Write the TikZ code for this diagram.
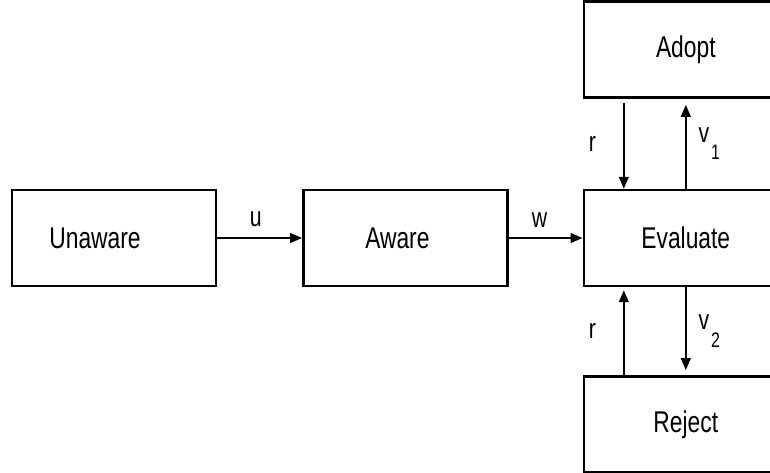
\documentclass[tikz,border=0pt]{standalone}
\usepackage{fontspec}
\setmainfont{Liberation Sans}[FakeStretch=0.76]
\usetikzlibrary{arrows.meta, positioning}
\newcommand{\lowsub}[1]{\kern1pt\raisebox{-0.62em}{\fontsize{10.5}{12}\selectfont #1}}

\begin{document}
\begin{tikzpicture}[
    node distance=42pt and 42pt,
    state/.style={draw, line width=1.2pt, minimum width=102pt, minimum height=48pt,
                  inner sep=0pt, font=\fontsize{15}{18}\selectfont},
    arr/.style={-{Triangle[length=6pt, width=4.8pt]}, line width=1.1pt},
    lbl/.style={font=\fontsize{14}{16}\selectfont, midway}
  ]
  \useasboundingbox (0,0) rectangle (385pt,-236pt);
  \clip (0,0) rectangle (385pt,-236pt);

  % Main chain
  \node[state] (unaware) at (57pt,-119pt) {Unaware\kern19pt};
  \node[state, right=42.5pt of unaware] (aware) {Aware\kern8pt};
  \node[state, right=37pt of aware] (eval) {Evaluate};

  % Outcomes
  \node[state, above=45pt of eval] (adopt) {Adopt};
  \node[state, below=44pt of eval] (reject) {Reject};

  % Arrows along the chain
  \draw[arr] (unaware) -- node[lbl, above=1.5pt, xshift=-2pt]{u} (aware);
  \draw[arr] (aware) -- node[lbl, above=1.5pt, xshift=-3pt]{w} (eval);

  % Arrows to and from the outcomes
  \draw[arr, shorten <=2pt] ([xshift=-31pt]adopt.south) -- node[lbl, left=10pt]{r} ([xshift=-31pt]eval.north);
  \draw[arr, shorten >=3pt] (eval.north) -- node[lbl, right=2.5pt]{v\lowsub{1}} (adopt.south);
  \draw[arr, shorten >=1.5pt] ([xshift=-31pt]reject.north) -- node[lbl, left=10pt]{r} ([xshift=-31pt]eval.south);
  \draw[arr, shorten >=2.5pt] (eval.south) -- node[lbl, right=2.5pt]{v\lowsub{2}} (reject.north);
\end{tikzpicture}
\end{document}
